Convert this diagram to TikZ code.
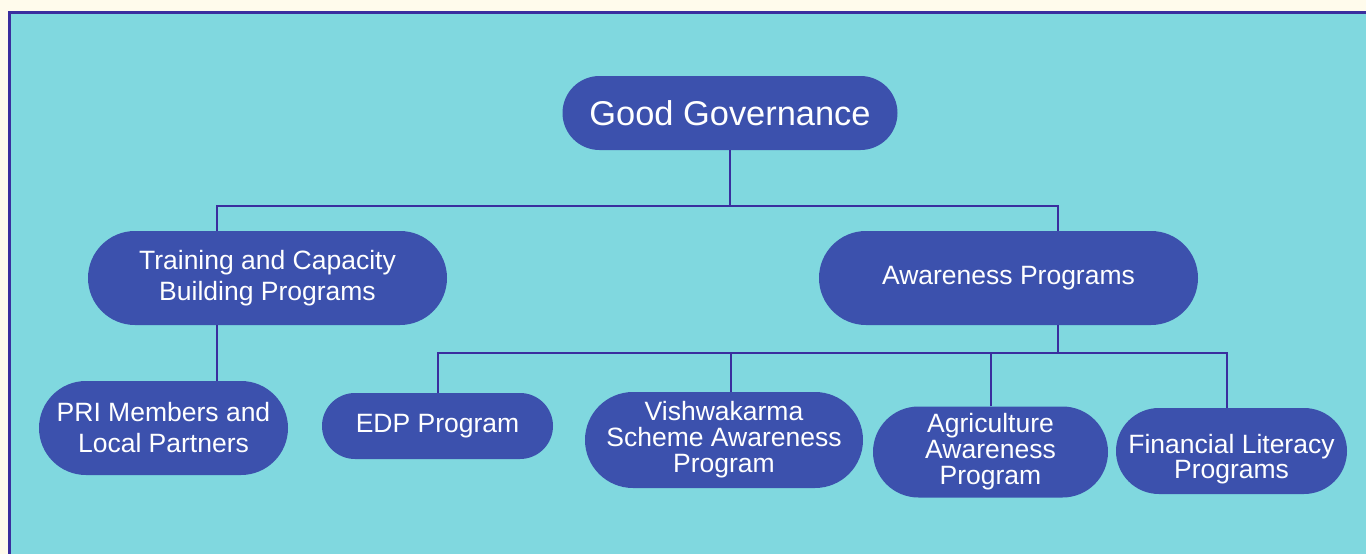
\documentclass[tikz,border=0pt]{standalone}
\usepackage{fontspec}
\setmainfont{Liberation Sans}
\usetikzlibrary{shapes.misc}
\definecolor{cream}{HTML}{FFFBEC}
\definecolor{teal}{HTML}{80D8DF}
\definecolor{nodeblue}{HTML}{3C51AD}
\definecolor{linecol}{HTML}{3A2E9E}
\tikzset{
  pill/.style={rounded rectangle, fill=nodeblue, text=white, align=center, inner sep=0pt},
  conn/.style={draw=linecol, line width=2pt},
  big/.style={font=\fontsize{34.4}{40}\selectfont},
  mid/.style={font=\fontsize{26.5}{31}\selectfont},
  tight/.style={font=\fontsize{26.5}{26}\selectfont}
}
\begin{document}
\begin{tikzpicture}[x=1pt,y=-1pt]
\useasboundingbox (0,0) rectangle (1366,554);
\fill[cream] (0,0) rectangle (1366,554);
\fill[teal] (9.5,12.5) rectangle (1366,554);
\draw[linecol, line width=3pt] (9.5,554) -- (9.5,12.5) -- (1366,12.5);

\node[pill, big, minimum width=335pt, minimum height=74pt] (gg) at (730,113) {Good Governance};
\node[pill, mid, minimum width=359pt, minimum height=94pt] (train) at (267.5,278) {Training and Capacity\\Building Programs};
\node[pill, mid, minimum width=379pt, minimum height=94pt] (aw) at (1008.5,278) {Awareness Programs};
\node[pill, mid, minimum width=249pt, minimum height=94pt] (pri) at (163.5,428) {PRI Members and\\Local Partners};
\node[pill, mid, minimum width=231pt, minimum height=66pt] (edp) at (437.5,426) {EDP Program};
\node[pill, tight, minimum width=278pt, minimum height=96pt] (vis) at (724,440) {Vishwakarma\\Scheme Awareness\\Program};
\node[pill, tight, minimum width=235pt, minimum height=91pt] (agr) at (990.5,452) {Agriculture\\Awareness\\Program};
\node[pill, tight, minimum width=231pt, minimum height=86pt] (fin) at (1231.5,451) {\raisebox{-9pt}[\height][\depth]{\begin{tabular}{@{}c@{}}Financial Literacy\\[-1pt]Programs\end{tabular}}};

% level 1
\draw[conn] (gg.south) -- ++(0,56) coordinate (b1);
\draw[conn] ([xshift=-50.5pt]train.north) -- ++(0,-25) -| ([xshift=49.5pt]aw.north);
% training -> PRI
\draw[conn] ([xshift=-50.5pt]train.south) -- ([xshift=53.5pt]pri.north);
% awareness bus
\draw[conn] ([xshift=49.5pt]aw.south) -- ++(0,28) coordinate (b2);
\draw[conn] ([xshift=0.5pt]edp.north) -- ++(0,-40) -| ([xshift=-4.5pt]fin.north);
\draw[conn] ([xshift=7pt]vis.north) -- ++(0,-39);
\draw[conn] ([xshift=0.5pt]agr.north) -- ++(0,-53);
\end{tikzpicture}
\end{document}
